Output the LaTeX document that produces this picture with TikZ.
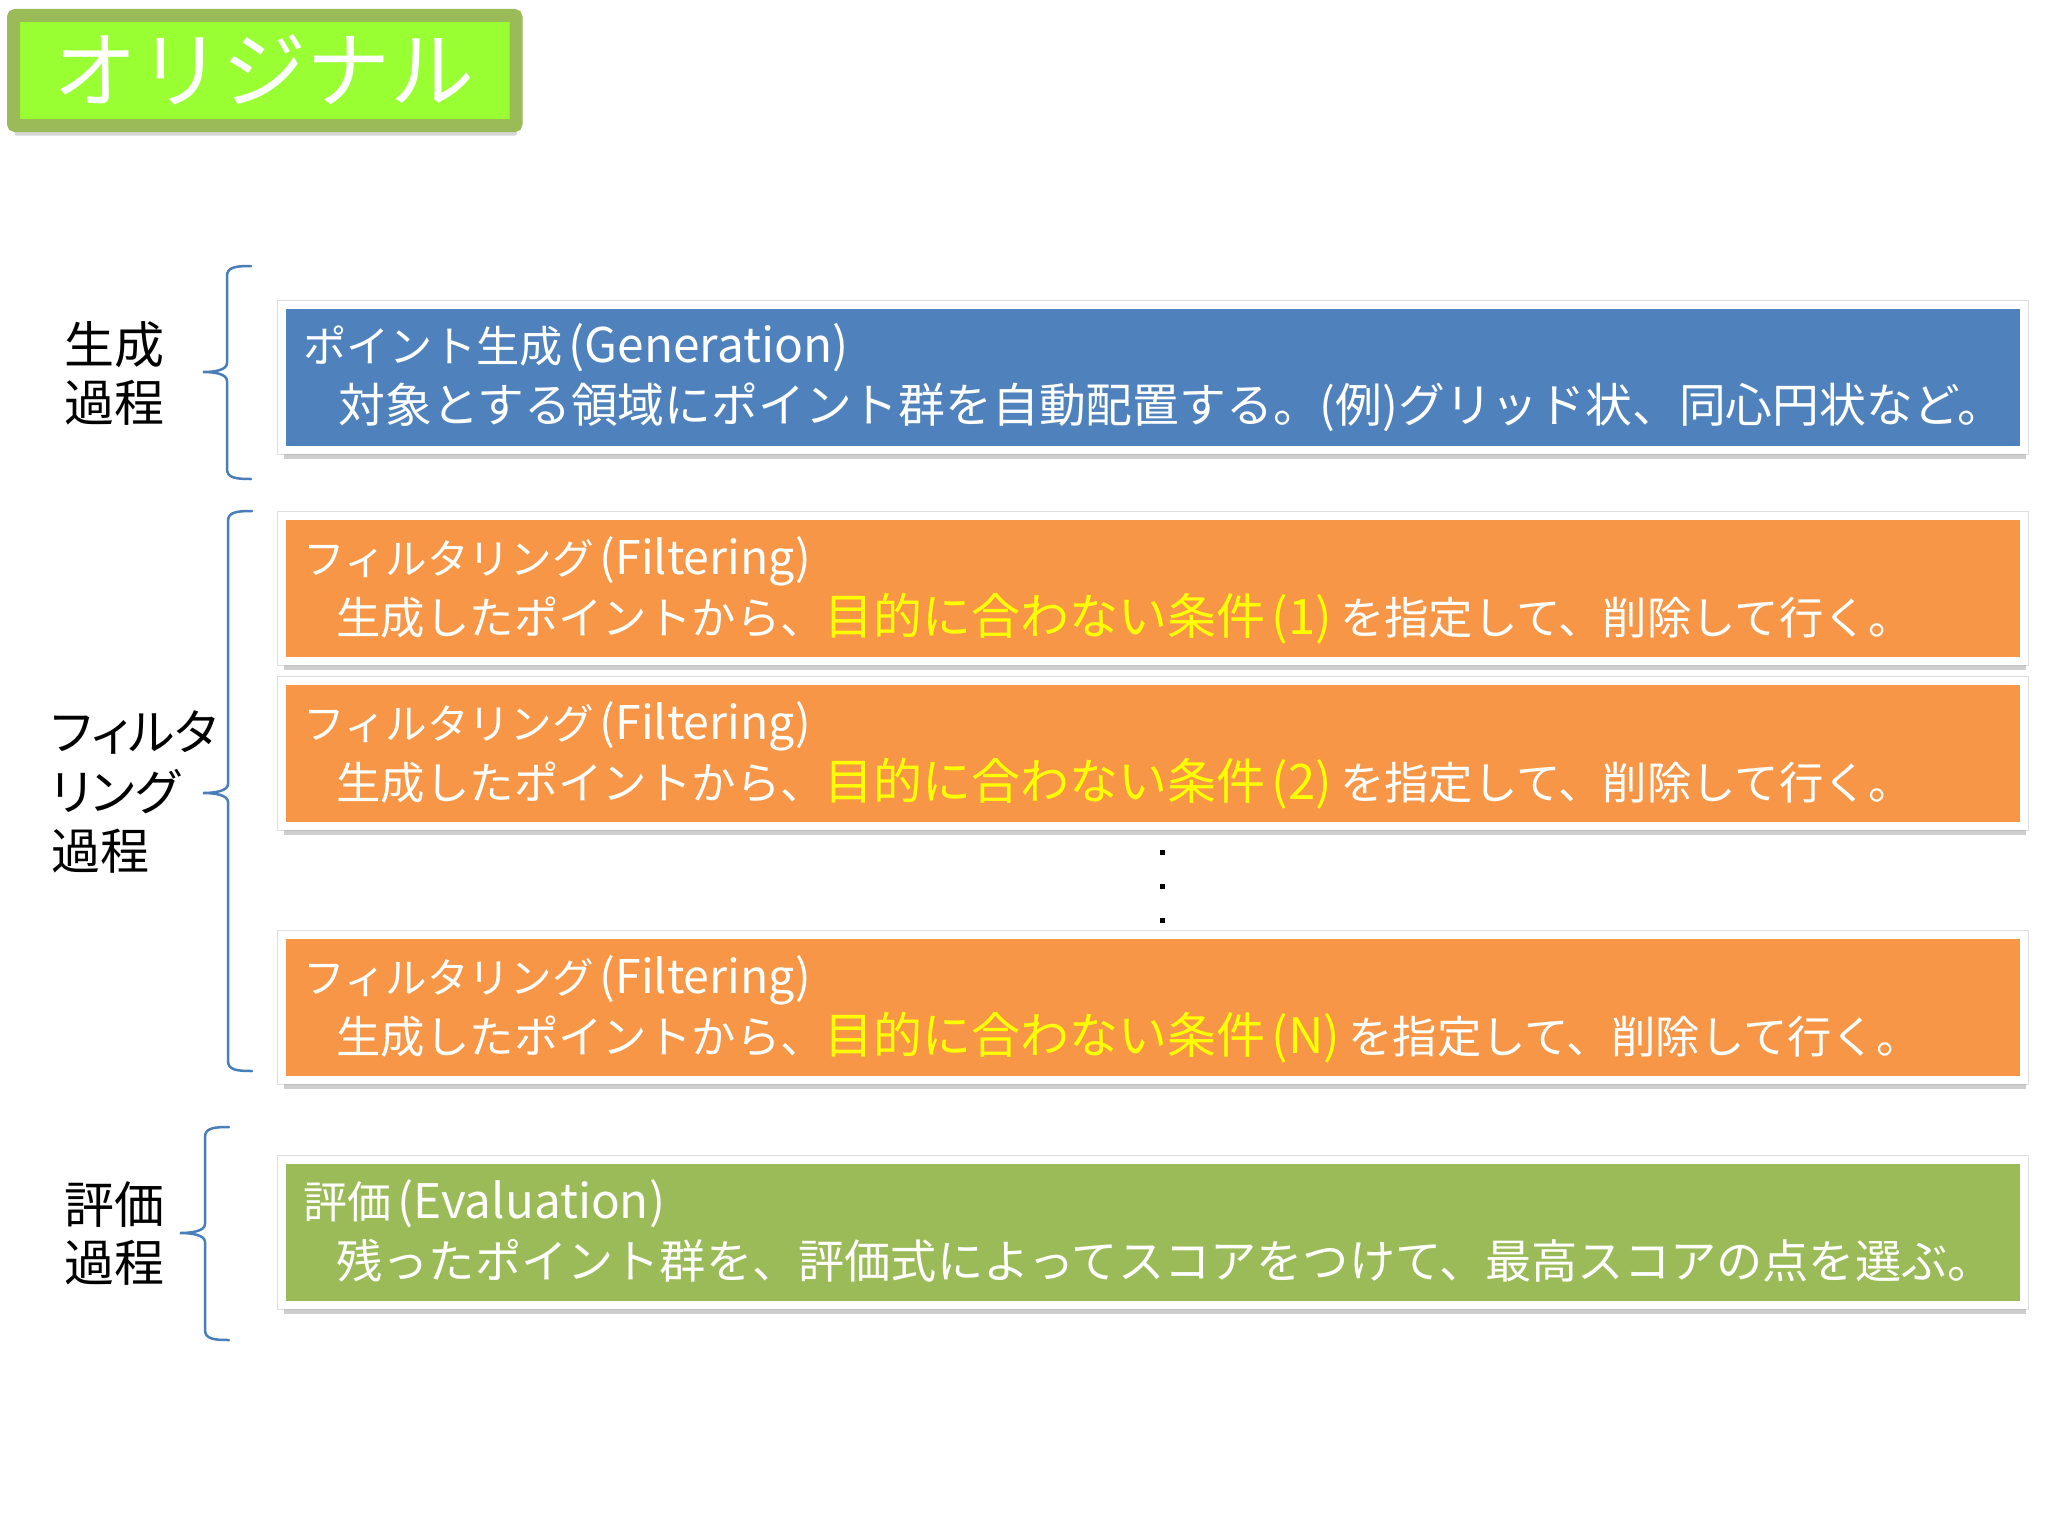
\documentclass[tikz,border=0pt]{standalone}
\usepackage{fontspec}
\setmainfont{Noto Sans CJK JP}
\newfontfamily\jpprop[RawFeature=+palt]{Noto Sans CJK JP}
\usetikzlibrary{shadows}
\definecolor{pblue}{HTML}{4F81BD}
\definecolor{porange}{HTML}{F79646}
\definecolor{pgreen}{HTML}{9BBB59}
\definecolor{plime}{HTML}{99FF33}
\definecolor{pyellow}{HTML}{FFFF00}
\definecolor{bracecol}{HTML}{4A7EBB}
\newcommand\pbrace[6]{% xarm, xv, xtip, ytop, ytip, ybot
  \draw[bracecol, line width=1.25pt, line cap=round]
    (#1,#4) .. controls ({#2+9},#4) and (#2,{#4+1}) .. (#2,{#4+10})
    -- (#2,{#5-9}) .. controls (#2,{#5-2}) and ({#3+12},#5) .. (#3,#5)
    .. controls ({#3+12},#5) and (#2,{#5+2}) .. (#2,{#5+9})
    -- (#2,{#6-10}) .. controls (#2,{#6-1}) and ({#2+9},#6) .. (#1,#6);}
% heading: Japanese part (size #1) + Latin part in parentheses (size #2)
\newcommand\hd[4]{{\fontsize{#1}{25}\selectfont #3}{\fontsize{#2}{25}\selectfont\hspace{3pt}(#4)}}
% highlighted condition
\newcommand\cond[1]{{\color{pyellow}\fontsize{24.5}{25}\selectfont 目的に合わない条件\hspace{3pt}(#1)\hspace{4pt}}}
\newcommand\filt[1]{{\fontsize{22.2}{25}\selectfont 生成したポイントから、}\cond{#1}{\fontsize{22.2}{25}\selectfont を指定して、削除して行く。}}
\begin{document}
\begin{tikzpicture}[x=0.5pt,y=-0.5pt,
  procbox/.style={draw=white, line width=4pt, inner sep=0pt, outer sep=0pt,
    minimum width=871pt, minimum height=72.5pt,
    preaction={draw=black!13, line width=5pt},
    drop shadow={shadow xshift=1pt, shadow yshift=-4.5pt, fill=black!35, opacity=0.55}},
  boxtext/.style={anchor=base west, inner sep=0pt, text=white},
  label/.style={inner sep=0pt, text=black, font=\fontsize{25}{29}\selectfont},
  dotsq/.style={fill=black, inner sep=0pt, minimum size=2.5pt}]
\useasboundingbox (0,0) rectangle (2048,1536);
\fill[white] (0,0) rectangle (2048,1536);

% title
\node[draw=pgreen, fill=plime, line width=6.5pt, rounded corners=1pt,
  minimum width=251.25pt, minimum height=55pt, inner sep=0pt,
  drop shadow={shadow xshift=0.5pt, shadow yshift=-5pt, fill=black!35, opacity=0.45}]
  (title) at (264.75,70.5) {};
\node[text=white, font=\fontsize{42}{42}\selectfont, inner sep=0pt] (titletext) at (264,70) {オリジナル};

% boxes
\node[procbox, fill=pblue] (gen) at (1153,377) {};
\node[procbox, fill=porange] (f1) at (1153,588.5) {};
\node[procbox, fill=porange] (f2) at (1153,753.5) {};
\node[procbox, fill=porange] (f3) at (1153,1007.5) {};
\node[procbox, fill=pgreen] (ev) at (1153,1232.5) {};

% texts (baselines: top+54, top+114)
\node[boxtext] (gen1) at (303,362) {\hd{21.6}{23.9}{ポイント生成}{Generation}};
\node[boxtext] (gen2) at (338,422) {\fontsize{23.4}{25}\selectfont 対象とする領域にポイント群を自動配置する。(例)グリッド状、同心円状など。};

\node[boxtext] (f1a) at (303,574) {\hd{20.8}{23.2}{フィルタリング}{Filtering}};
\node[boxtext] (f1b) at (336,634) {\filt{1}};
\node[boxtext] (f2a) at (303,739) {\hd{20.8}{23.2}{フィルタリング}{Filtering}};
\node[boxtext] (f2b) at (336,799) {\filt{2}};
\node[boxtext] (f3a) at (303,993) {\hd{20.8}{23.2}{フィルタリング}{Filtering}};
\node[boxtext] (f3b) at (336,1053) {\filt{N}};

\node[boxtext] (ev1) at (303,1218) {\hd{22}{23.8}{評価}{Evaluation}};
\node[boxtext] (ev2) at (336,1278) {\fontsize{23.1}{25}\selectfont 残ったポイント群を、評価式によってスコアをつけて、最高スコアの点を選ぶ。};

% dots
\node[dotsq] (d1) at (1162,852) {};
\node[dotsq] (d2) at (1162,886) {};
\node[dotsq] (d3) at (1162,920) {};

% left labels
\node[label, align=center] (lgen) at (114,373) {生成\\過程};
\node[label, align=left, anchor=west, font=\jpprop\fontsize{24.5}{29.75}\selectfont] (lfil) at (51,792) {フィルタ\\リング\\過程};
\node[label, align=center] (lev) at (114,1234) {評価\\過程};

% braces
\pbrace{251}{227}{203}{266}{372}{479}
\pbrace{252}{228}{203}{511}{793}{1071}
\pbrace{229}{205}{180}{1127}{1233}{1340}
\end{tikzpicture}
\end{document}
